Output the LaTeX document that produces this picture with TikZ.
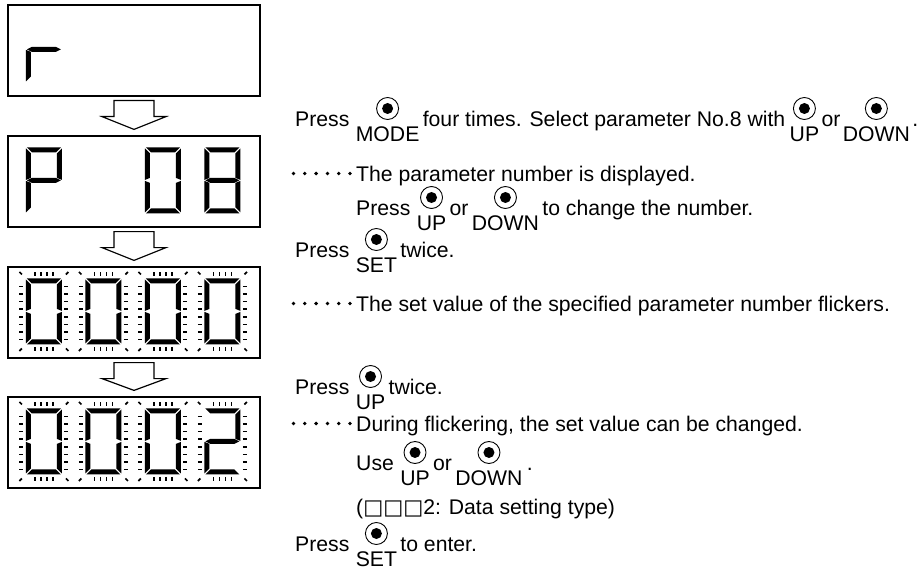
\documentclass[tikz,border=0pt]{standalone}
\usepackage{fontspec}
\setmainfont{Liberation Sans}
\newfontfamily\symfont{DejaVu Sans}
\usetikzlibrary{positioning,calc}

\newcommand\segA{(1,0) -- (35,0) -- (30,-5) -- (6,-5) -- cycle}
\newcommand\segB{(36,-1) -- (36,-32.5) -- (31,-30.5) -- (31,-6) -- cycle}
\newcommand\segC{(36,-33.5) -- (36,-65) -- (31,-60) -- (31,-35.5) -- cycle}
\newcommand\segD{(1,-66) -- (35,-66) -- (30,-61) -- (6,-61) -- cycle}
\newcommand\segE{(0,-33.5) -- (5,-35.5) -- (5,-60) -- (0,-65) -- cycle}
\newcommand\segF{(0,-1) -- (5,-6) -- (5,-30.5) -- (0,-32.5) -- cycle}
\newcommand\segG{(1,-33) -- (6,-30.5) -- (30,-30.5) -- (35,-33) -- (30,-35.5) -- (6,-35.5) -- cycle}

\newcommand\sevenseg[3]{%
  \begin{scope}[shift={($(#1.north west)+(18.5+59.5*#2,-12)$)}]
    \foreach \s in {#3} {\expandafter\fill\csname seg\s\endcsname;}
  \end{scope}}

\newcommand\flicker[2]{%
  \begin{scope}[shift={($(#1.north west)+(18.5+59.5*#2,-12)$)}, line width=1.7pt]
    \foreach \u in {9,15,21,27} {\draw (\u,2.5) -- (\u,6.5); \draw (\u,-68.5) -- (\u,-72.5);}
    \foreach \k in {0,...,7} {\draw (-6.5,-8-7.6*\k) -- (-2.5,-8-7.6*\k); \draw (38.5,-8-7.6*\k) -- (42.5,-8-7.6*\k);}
    \draw (-6.5,6.5) -- (-4,4);
    \draw (40,4) -- (42.5,6.5);
    \draw (-6.5,-72.5) -- (-4,-70);
    \draw (40,-70) -- (42.5,-72.5);
  \end{scope}}

\newcommand\flowarrow[2]{%
  \draw[blockarrow] ($(#1.south)+(-20,-4)$) -- ++(0,-16) -- ++(-12,0)
    -- ($(#2.north)+(0,6)$) -- ($(#1.south)+(32,-20)$) -- ++(-12,0) -- ++(0,16) -- cycle;}

\newcommand\keylbl[1]{\raisebox{-15pt}{#1}}
\newcommand\leaderdots[1]{%
  \foreach \k in {0,...,5} \fill ($(#1.base west)+(-62.5+11.3*\k,7.5)$) circle (1.9pt);}

\begin{document}
\begin{tikzpicture}[x=1pt, y=1pt,
    dispbox/.style={draw, line width=1.2pt, minimum width=252pt, minimum height=91pt, inner sep=0pt},
    txt/.style={inner sep=0pt, font=\fontsize{21.2}{26}\selectfont},
    ring/.style={circle, draw, line width=0.9pt, minimum size=22pt, inner sep=0pt,
      path picture={\fill (path picture bounding box.center) circle (5.5pt);}},
    key/.style={txt, append after command={node[ring] at ($(\tikzlastnode.base)+(0,17.5)$) {}}},
    blockarrow/.style={draw, line width=1.2pt, fill=white}]
  \useasboundingbox (0,0) rectangle (922,-578);

  \node[dispbox] (disp1) at (134,-50.5) {};
  \node[dispbox] (disp2) at (134,-181.5) {};
  \node[dispbox] (disp3) at (134,-312.5) {};
  \node[dispbox] (disp4) at (134,-442.5) {};

  \sevenseg{disp1}{0}{E,G}
  \sevenseg{disp2}{0}{A,B,E,F,G}
  \sevenseg{disp2}{2}{A,B,C,D,E,F}
  \sevenseg{disp2}{3}{A,B,C,D,E,F,G}
  \foreach \i in {0,1,2,3} {\sevenseg{disp3}{\i}{A,B,C,D,E,F} \flicker{disp3}{\i}}
  \foreach \i in {0,1,2} {\sevenseg{disp4}{\i}{A,B,C,D,E,F}}
  \sevenseg{disp4}{3}{A,B,D,E,G}
  \foreach \i in {0,1,2,3} {\flicker{disp4}{\i}}

  \flowarrow{disp1}{disp2}
  \flowarrow{disp2}{disp3}
  \flowarrow{disp3}{disp4}

  \node[txt, anchor=base west] (p1) at (295,-126) {Press};
  \node[key, base right=6pt of p1] (k1) {\keylbl{MODE}};
  \node[txt, base right=3pt of k1] (t1) {four times. Select parameter No.8 with};
  \node[key, base right=4pt of t1] (k2) {\keylbl{UP}};
  \node[txt, base right=2pt of k2] (t2) {or};
  \node[key, base right=2pt of t2] (k3) {\keylbl{DOWN}};
  \node[txt, base right=2pt of k3] (t3) {.};

  \node[txt, anchor=base west] (n1) at (356,-181) {The parameter number is displayed.};
  \leaderdots{n1}

  \node[txt, anchor=base west] (p2) at (356,-215) {Press};
  \node[key, base right=6pt of p2] (k4) {\keylbl{UP}};
  \node[txt, base right=3pt of k4] (t4) {or};
  \node[key, base right=3pt of t4] (k5) {\keylbl{DOWN}};
  \node[txt, base right=3pt of k5] (t5) {to change the number.};

  \node[txt, anchor=base west] (p3) at (295,-257) {Press};
  \node[key, base right=6pt of p3] (k6) {\keylbl{SET}};
  \node[txt, base right=3pt of k6] (t6) {twice.};

  \node[txt, anchor=base west] (n2) at (356,-311) {The set value of the specified parameter number flickers.};
  \leaderdots{n2}

  \node[txt, anchor=base west] (p4) at (295,-394) {Press};
  \node[key, base right=6pt of p4] (k7) {\keylbl{UP}};
  \node[txt, base right=3pt of k7] (t7) {twice.};

  \node[txt, anchor=base west] (n3) at (356,-431) {During flickering, the set value can be changed.};
  \leaderdots{n3}

  \node[txt, anchor=base west] (u1) at (356,-470) {Use};
  \node[key, base right=6pt of u1] (k8) {\keylbl{UP}};
  \node[txt, base right=3pt of k8] (t8) {or};
  \node[key, base right=3pt of t8] (k9) {\keylbl{DOWN}};
  \node[txt, base right=4pt of k9] (t9) {.};

  \node[txt, anchor=base west] (n4) at (356,-514) {({\symfont □□□}2: Data setting type)};

  \node[txt, anchor=base west] (p5) at (295,-551) {Press};
  \node[key, base right=6pt of p5] (k10) {\keylbl{SET}};
  \node[txt, base right=3pt of k10] (t10) {to enter.};
\end{tikzpicture}
\end{document}
